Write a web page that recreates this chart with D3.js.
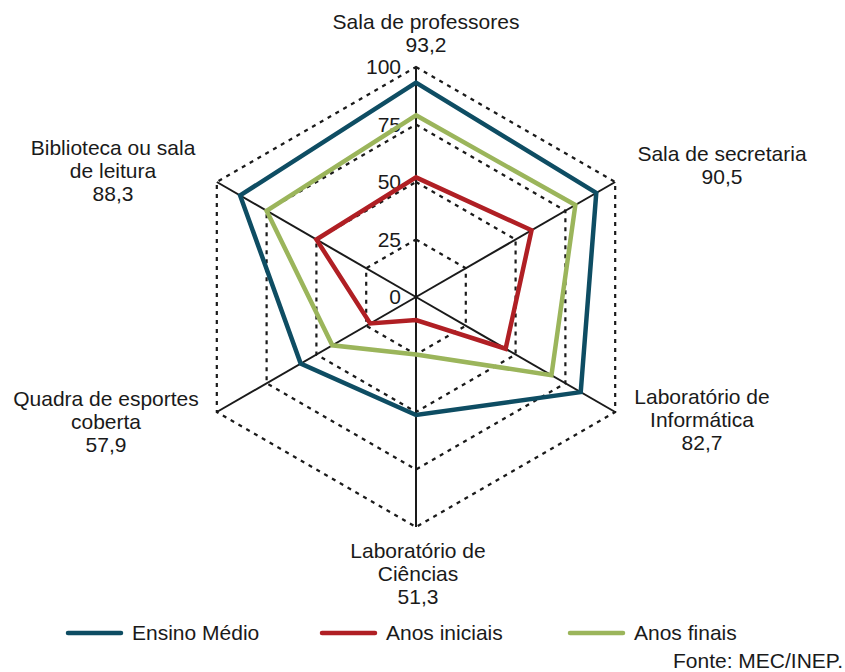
<!DOCTYPE html>
<html>
<meta charset="utf-8">
<head>
  <script src="https://d3js.org/d3.v7.min.js"></script>
  <style>
    body { margin: 0; background: #fff; }
    text { font-family: "Liberation Sans", Arial, sans-serif; fill: #1a1a1a; }
  </style>
</head>
<body>
<div id="chart"></div>
<script>
  // axes, clockwise from the top
  var categories = [
    ["Sala de professores", "93,2"],
    ["Sala de secretaria", "90,5"],
    ["Laboratório de", "Informática", "82,7"],
    ["Laboratório de", "Ciências", "51,3"],
    ["Quadra de esportes", "coberta", "57,9"],
    ["Biblioteca ou sala", "de leitura", "88,3"]
  ];
  var ensinoMedio = [93.2, 90.5, 82.7, 51.3, 57.9, 88.3];
  var anosIniciais = [52, 58, 45, 10, 23, 50];
  var anosFinais = [79, 80, 68, 25, 42, 75];
  var ticks = [0, 25, 50, 75, 100];

  var series = [
    { name: "Ensino Médio", values: ensinoMedio, color: "#0e4d63" },
    { name: "Anos finais", values: anosFinais, color: "#9bb55b" },
    { name: "Anos iniciais", values: anosIniciais, color: "#b01f24" }
  ];
  var legendOrder = ["Ensino Médio", "Anos iniciais", "Anos finais"];

  var W = 845, H = 672, cx = 416, cy = 297, R = 230;
  var r = d3.scaleLinear().domain([0, 100]).range([0, R]);
  var ang = d3.scaleLinear().domain([0, categories.length]).range([0, 2 * Math.PI]);

  function pt(i, v) {
    var a = ang(i);
    return [cx + r(v) * Math.sin(a), cy - r(v) * Math.cos(a)];
  }

  var svg = d3.select("#chart").append("svg")
    .attr("width", W).attr("height", H);

  var line = d3.line();

  // dotted grid hexagons
  svg.append("g").selectAll("path")
    .data(ticks.filter(function(t) { return t > 0; }))
    .enter().append("path")
    .attr("d", function(t) {
      return line(categories.map(function(c, i) { return pt(i, t); })) + "Z";
    })
    .attr("fill", "none")
    .attr("stroke", "#1a1a1a")
    .attr("stroke-width", 2.2)
    .attr("stroke-dasharray", "4,5");

  // axes
  svg.append("g").selectAll("line")
    .data(categories)
    .enter().append("line")
    .attr("x1", cx).attr("y1", cy)
    .attr("x2", function(d, i) { return pt(i, 100)[0]; })
    .attr("y2", function(d, i) { return pt(i, 100)[1]; })
    .attr("stroke", "#1a1a1a")
    .attr("stroke-width", 2);

  // tick labels
  svg.append("g").selectAll("text")
    .data(ticks)
    .enter().append("text")
    .attr("x", cx - 15)
    .attr("y", function(t) { return cy - r(t); })
    .attr("dy", "0.35em")
    .attr("text-anchor", "end")
    .style("font-size", "21px")
    .text(function(t) { return t; });

  // series
  svg.append("g").selectAll("path")
    .data(series)
    .enter().append("path")
    .attr("d", function(s) {
      return line(s.values.map(function(v, i) { return pt(i, v); })) + "Z";
    })
    .attr("fill", "none")
    .attr("stroke", function(s) { return s.color; })
    .attr("stroke-width", 4.5)
    .attr("stroke-linejoin", "miter");

  // category labels
  var labelPos = [
    [426, 29], [722, 161], [702, 404], [418, 558], [106, 406], [113, 155]
  ];
  var lab = svg.append("g").selectAll("text")
    .data(categories)
    .enter().append("text")
    .attr("text-anchor", "middle")
    .style("font-size", "21px")
    .attr("transform", function(d, i) { return "translate(" + labelPos[i] + ")"; });
  lab.selectAll("tspan")
    .data(function(d) { return d; })
    .enter().append("tspan")
    .attr("x", 0)
    .attr("y", function(d, j) { return j * 23; })
    .text(function(d) { return d; });

  // legend
  var legX = [68, 322, 570];
  var leg = svg.append("g").selectAll("g")
    .data(legendOrder)
    .enter().append("g")
    .attr("transform", function(d, i) { return "translate(" + legX[i] + ",633)"; });
  leg.append("line")
    .attr("x1", 0).attr("x2", 53)
    .attr("stroke", function(d) {
      return series.find(function(s) { return s.name === d; }).color;
    })
    .attr("stroke-width", 4.5)
    .attr("stroke-linecap", "round");
  leg.append("text")
    .attr("x", 64).attr("dy", "0.35em")
    .style("font-size", "21px")
    .text(function(d) { return d; });

  svg.append("text")
    .attr("x", 843).attr("y", 668)
    .attr("text-anchor", "end")
    .style("font-size", "21px")
    .text("Fonte: MEC/INEP.");
</script>
</body>
</html>
